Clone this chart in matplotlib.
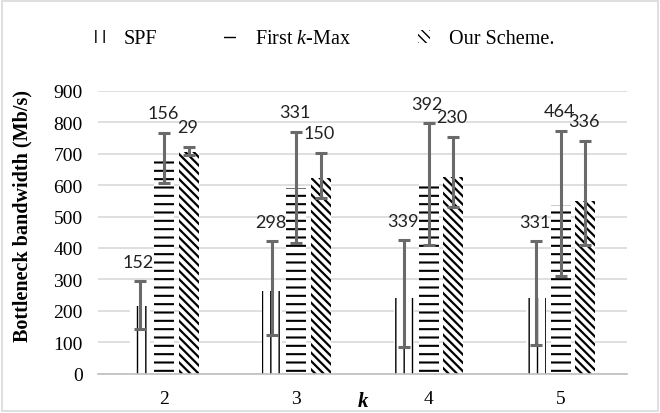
import matplotlib
matplotlib.use("Agg")
import matplotlib.pyplot as plt
from matplotlib.patches import Rectangle
import numpy as np

ks = ["2", "3", "4", "5"]
series = ["SPF", "First $k$-Max", "Our Scheme."]

# bar heights (Mb/s)
spf = [214, 262, 240, 240]
first = [687, 592, 614, 538]
ours = [706, 624, 627, 548]

# error bar ends (low, high)
spf_lo = [141, 122, 84, 90]
spf_hi = [294, 421, 424, 421]
first_lo = [608, 417, 408, 310]
first_hi = [767, 770, 798, 773]
ours_lo = [697, 560, 529, 408]
ours_hi = [722, 703, 754, 741]

# numbers printed above the error bars
spf_lab = [152, 298, 339, 331]
first_lab = [156, 331, 392, 464]
ours_lab = [29, 150, 230, 336]

serif = ["Liberation Serif", "DejaVu Serif"]
plt.rcParams["font.family"] = serif
plt.rcParams["mathtext.fontset"] = "custom"
plt.rcParams["mathtext.it"] = "Liberation Serif:italic"
plt.rcParams["mathtext.rm"] = "Liberation Serif"

fig = plt.figure(figsize=(6.6, 4.14), dpi=100)
ax = fig.add_axes([98 / 660, 1 - 374.5 / 414, 529 / 660, 282.5 / 414])

x = np.arange(len(ks))
w = 0.15
step = 0.185

groups = [
    (spf, spf_lo, spf_hi, spf_lab, "||", 1.0),
    (first, first_lo, first_hi, first_lab, "--", 1.5),
    (ours, ours_lo, ours_hi, ours_lab, "\\\\\\\\", 1.6),
]

handles = []
for i, (vals, lo, hi, lab, hatch, hlw) in enumerate(groups):
    xs = x + (i - 1) * step
    with plt.rc_context({"hatch.linewidth": hlw}):
        b = ax.bar(xs, vals, w, color="white", edgecolor="black",
                   linewidth=0, hatch=hatch, zorder=2, label=series[i])
    handles.append(b)
    v = np.array(vals)
    yerr = [v - np.array(lo), np.array(hi) - v]
    ax.errorbar(xs, vals, yerr=yerr, fmt="none", ecolor="#6a6a6a",
                elinewidth=2.2, capsize=4.5, capthick=2.2, zorder=3)
    for xi, h, t in zip(xs, hi, lab):
        ax.annotate(str(t), (xi, h), xytext=(-1, 14), textcoords="offset points",
                    ha="center", va="center", fontsize=13,
                    family=["Lato", "DejaVu Sans"], color="#222222")

ax.set_xlim(-0.5, len(ks) - 0.5)
ax.set_ylim(0, 900)
ax.set_yticks(range(0, 901, 100))
ax.set_xticks(x)
ax.set_xticklabels(ks)
ax.tick_params(axis="both", length=0, labelsize=14)
ax.tick_params(axis="y", pad=11)
ax.tick_params(axis="x", pad=12)
ax.grid(axis="y", color="#d9d9d9", linewidth=1.2, zorder=0)
ax.set_axisbelow(True)
for s in ["left", "right", "top"]:
    ax.spines[s].set_visible(False)
ax.spines["bottom"].set_color("#bfbfbf")
ax.spines["bottom"].set_linewidth(1.2)

ax.set_ylabel("Bottleneck bandwidth (Mb/s)", fontsize=14.5, fontweight="bold")
ax.yaxis.set_label_coords(-0.123, 0.56)
ax.set_xlabel("k", fontsize=15, fontweight="bold", fontstyle="italic")
ax.xaxis.set_label_coords(0.5, -0.062)

leg = fig.legend(handles=handles, labels=series, loc="center",
                 bbox_to_anchor=(0.49, 1 - 40 / 414), ncol=3, frameon=False,
                 fontsize=14.5, handlelength=0.6, handleheight=0.6,
                 handletextpad=0.95, columnspacing=3.3)

fig.patches.append(Rectangle((0.003, 0.004), 0.994, 0.992, transform=fig.transFigure,
                             fill=False, edgecolor="#d9d9d9", linewidth=1.2))

fig.savefig("out.png", dpi=100)
